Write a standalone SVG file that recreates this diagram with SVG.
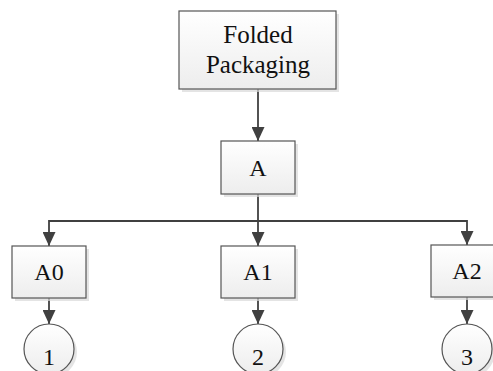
<svg xmlns="http://www.w3.org/2000/svg" width="493" height="371" viewBox="0 0 493 371" font-family="'Liberation Serif', 'DejaVu Serif', serif">
  <style>
    .box { fill: url(#boxFill); stroke: #555555; stroke-width: 1.2; }
    .shadow { fill: #d9d9d9; opacity: 0.7; }
    .label { font-family: 'Liberation Serif', 'DejaVu Serif', serif; font-size: 24px; fill: #111111; text-anchor: middle; }
    .wire { fill: none; stroke: #404040; stroke-width: 1.8; }
  </style>
  <defs>
    <linearGradient id="boxFill" x1="0" y1="0" x2="0" y2="1">
      <stop offset="0" stop-color="#ffffff"/>
      <stop offset="1" stop-color="#ededed"/>
    </linearGradient>
    <marker id="arrow" viewBox="0 0 14 13" refX="14" refY="6.5" markerWidth="14" markerHeight="13" markerUnits="userSpaceOnUse" orient="auto">
      <path d="M0,0 L14,6.5 L0,13 Z" fill="#404040"/>
    </marker>
  </defs>

  <!-- connectors -->
  <g id="connectors">
    <path class="wire" d="M258,89 V141" marker-end="url(#arrow)"/>
    <path class="wire" d="M258,194 V246" marker-end="url(#arrow)"/>
    <path class="wire" d="M258,221 H49 V246" marker-end="url(#arrow)"/>
    <path class="wire" d="M258,221 H467 V245" marker-end="url(#arrow)"/>
    <path class="wire" d="M49,298 V324" marker-end="url(#arrow)"/>
    <path class="wire" d="M258,298 V324" marker-end="url(#arrow)"/>
    <path class="wire" d="M467,297 V324" marker-end="url(#arrow)"/>
  </g>

  <!-- root -->
  <g id="folded-packaging">
    <rect class="shadow" x="182" y="14" width="157" height="78"/>
    <rect class="box" x="179" y="11" width="157" height="78"/>
    <text class="label" x="258" y="43" style="font-size:25px">Folded</text>
    <text class="label" x="258" y="73" style="font-size:25px">Packaging</text>
  </g>

  <g id="node-a">
    <rect class="shadow" x="224" y="144" width="74" height="53"/>
    <rect class="box" x="221" y="141" width="74" height="53"/>
    <text class="label" x="258" y="176">A</text>
  </g>

  <g id="node-a0">
    <rect class="shadow" x="15" y="249" width="74" height="52"/>
    <rect class="box" x="12" y="246" width="74" height="52"/>
    <text class="label" x="49" y="280">A0</text>
  </g>

  <g id="node-a1">
    <rect class="shadow" x="224" y="249" width="74" height="52"/>
    <rect class="box" x="221" y="246" width="74" height="52"/>
    <text class="label" x="258" y="280">A1</text>
  </g>

  <g id="node-a2">
    <rect class="shadow" x="434" y="248" width="74" height="52"/>
    <rect class="box" x="431" y="245" width="74" height="52"/>
    <text class="label" x="467" y="279">A2</text>
  </g>

  <!-- terminal markers -->
  <g id="circle-1">
    <circle class="shadow" cx="52" cy="352" r="25"/>
    <circle class="box" cx="49" cy="349" r="25"/>
    <text class="label" x="49" y="365">1</text>
  </g>

  <g id="circle-2">
    <circle class="shadow" cx="261" cy="352" r="25"/>
    <circle class="box" cx="258" cy="349" r="25"/>
    <text class="label" x="258" y="365">2</text>
  </g>

  <g id="circle-3">
    <circle class="shadow" cx="470" cy="352" r="25"/>
    <circle class="box" cx="467" cy="349" r="25"/>
    <text class="label" x="467" y="365">3</text>
  </g>
</svg>
